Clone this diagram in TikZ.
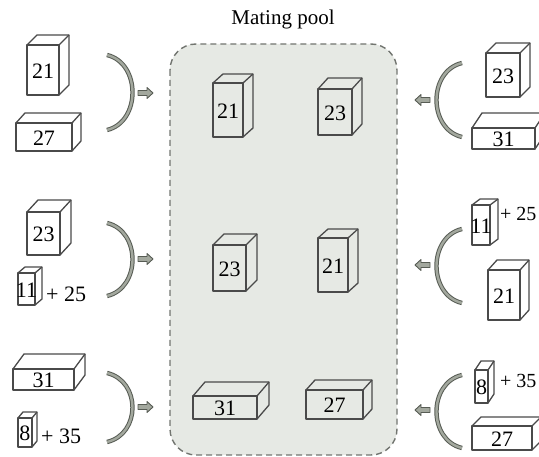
\documentclass[tikz,border=0pt]{standalone}
\usepackage{fontspec}
\setmainfont{Liberation Serif}

\definecolor{poolfill}{HTML}{E6E9E4}
\definecolor{pooledge}{HTML}{727570}
\definecolor{boxedge}{HTML}{4A4A4A}
\definecolor{bracedark}{HTML}{575C54}
\definecolor{bracefill}{HTML}{A3A89E}

\tikzset{
  boxline/.style={draw=boxedge, line width=1.3pt, line join=round},
  num/.style={font=\fontsize{22}{22}\selectfont, inner sep=0pt},
  plus/.style={font=\fontsize{22}{22}\selectfont, inner sep=0pt, anchor=west},
  plusnarrow/.style={plus, font=\fontsize{20}{20}\selectfont},
  pooltitle/.style={font=\fontsize{21}{21}\selectfont, inner sep=0pt},
  pool/.style={draw=pooledge, fill=poolfill, line width=1.4pt, dash pattern=on 6pt off 4pt, rounded corners=26pt},
  brace/.style={draw=bracedark, line width=1pt, double=bracefill, double distance=2.4pt},
  passarrow/.style={draw=bracedark, fill=bracefill, line width=0.9pt, line join=round}
}

% name, x, y (front top left), width, height, depth x, depth y, label
\newcommand{\crate}[8]{%
  \draw[boxline] (#2,#3) rectangle ++(#4,#5);
  \draw[boxline] (#2,#3) -- ++(#6,-#7) -- ++(#4,0) -- ++(0,#5) -- ++(-#6,#7);
  \draw[boxline] (#2+#4,#3) -- ++(#6,-#7);
  \node[num] (#1) at ({#2+#4/2},{#3+#5/2+1}) {#8};
}

% x, y (tail), direction
\newcommand{\blockarrow}[3]{%
  \begin{scope}[shift={(#1,#2)}, xscale=#3]
    \draw[passarrow] (0,-2.5) -- (9,-2.5) -- (9,-5.5) -- (15,0) -- (9,5.5) -- (9,2.5) -- (0,2.5) -- cycle;
  \end{scope}
}

\begin{document}
\begin{tikzpicture}[x=1pt, y=-1pt]
  \useasboundingbox (0,0) rectangle (539,457);
  \clip (0,0) rectangle (539,457);

  % Mating pool
  \draw[pool] (170,44) rectangle (397,455);
  \node[pooltitle] (title) at (283,19) {Mating pool};

  \crate{p21}{213}{83}{30}{54}{10}{9}{21}
  \crate{p23}{318}{89}{34}{46}{10}{11}{23}
  \crate{q23}{213}{245}{33}{46}{11}{11}{23}
  \crate{q21}{318}{238}{30}{54}{10}{9}{21}
  \crate{r31}{193}{396}{64}{23}{12}{14}{31}
  \crate{r27}{306}{390}{57}{29}{9}{10}{27}

  % Left parents
  \crate{la21}{27}{45}{32}{50}{10}{10}{21}
  \crate{la27}{16}{123}{56}{28}{9}{10}{27}
  \crate{lb23}{27}{212}{33}{43}{11}{12}{23}
  \crate{lb11}{18}{273}{17}{32}{7}{6}{11}
  \node[plus] (lbplus) at (46,294) {+ 25};
  \crate{lc31}{13}{369}{61}{21}{11}{15}{31}
  \crate{lc8}{18}{418}{14}{29}{5}{6}{8}
  \node[plus] (lcplus) at (41,436) {+ 35};

  % Right parents
  \crate{ra23}{486}{53}{34}{44}{10}{10}{23}
  \crate{ra31}{472}{128}{63}{21}{10}{15}{31}
  \crate{rb11}{472}{205}{18}{40}{8}{6}{11}
  \node[plusnarrow] (rbplus) at (500,214) {+ 25};
  \crate{rb21}{488}{270}{32}{50}{9}{10}{21}
  \crate{rc8}{475}{370}{13}{33}{6}{9}{8}
  \node[plusnarrow] (rcplus) at (500,381) {+ 35};
  \crate{rc27}{472}{426}{60}{24}{9}{9}{27}

  % Brackets and arrows
  \foreach \ya/\yb/\ym in {55/130/93, 223/296/259, 373/442/407}{
    \draw[brace] (107,\ya) .. controls (141,\ya+8) and (141,\yb-8) .. (107,\yb);
    \blockarrow{138}{\ym}{1}
  }
  \foreach \ya/\yb/\ym in {63/137/100, 229/303/265, 375/448/410}{
    \draw[brace] (462,\ya) .. controls (428,\ya+8) and (428,\yb-8) .. (462,\yb);
    \blockarrow{430}{\ym}{-1}
  }
\end{tikzpicture}
\end{document}
